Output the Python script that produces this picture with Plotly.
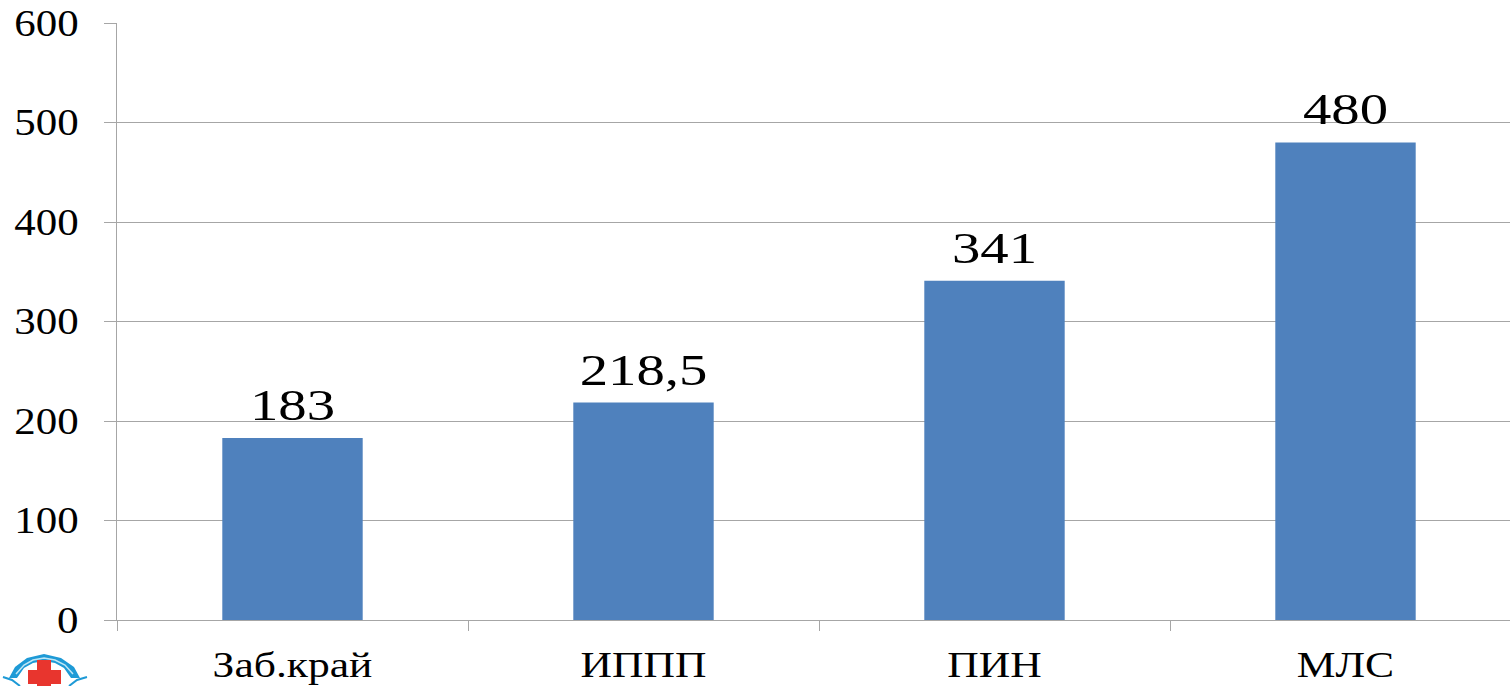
import plotly.graph_objects as go

categories = ["Заб.край", "ИППП", "ПИН", "МЛС"]
values = [183, 218.5, 341, 480]
labels = ["183", "218,5", "341", "480"]
tick_vals = [0, 100, 200, 300, 400, 500, 600]

W, H = 1521, 686
L, T, B = 117, 23, 66


def px(x):
    return (x - L) / (W - L)


def py(y):
    return (H - B - y) / (H - B - T)


def path(points, close=True):
    s = "M " + " L ".join(f"{px(a):.5f},{py(b):.5f}" for a, b in points)
    return s + (" Z" if close else "")


fig = go.Figure(go.Bar(
    x=categories, y=values, width=0.4, marker=dict(color="#4F81BD", line=dict(width=0)),
    text=labels, textposition="outside", cliponaxis=False,
    textfont=dict(family="Liberation Serif", size=44, color="#000000"),
))

logo = [
    # outer blue arch
    dict(path=path([(9, 678), (15, 667), (27, 658), (44, 654), (61, 658), (74, 667), (80, 678),
                    (71, 678), (64, 668), (55, 663), (44, 661), (33, 663), (24, 668), (17, 678)]),
         fillcolor="#1E9AD6", line=dict(width=0)),
    # pale stripe inside the arch
    dict(path=path([(16, 674), (24, 665), (33, 660), (44, 658), (55, 660), (65, 665), (73, 674)], close=False),
         fillcolor="rgba(0,0,0,0)", line=dict(width=1.5, color="#BFE6F5")),
    # side wisps
    dict(path=path([(3, 677), (12, 680), (20, 686)], close=False),
         fillcolor="rgba(0,0,0,0)", line=dict(width=2, color="#1E9AD6")),
    dict(path=path([(87, 677), (77, 680), (69, 686)], close=False),
         fillcolor="rgba(0,0,0,0)", line=dict(width=2, color="#1E9AD6")),
    # red cross
    dict(path=path([(37, 660), (51, 660), (51, 670), (61, 670), (61, 684), (51, 684), (51, 686),
                    (37, 686), (37, 684), (28, 684), (28, 670), (37, 670)]),
         fillcolor="#E8352E", line=dict(width=0)),
]
shapes = [dict(type="path", xref="paper", yref="paper", layer="above", **s) for s in logo]

fig.update_layout(
    width=W, height=H, margin=dict(l=L, r=0, t=T, b=B, autoexpand=False),
    paper_bgcolor="white", plot_bgcolor="white", showlegend=False,
    font=dict(family="Liberation Serif", color="#000000"),
    shapes=shapes,
)
fig.update_yaxes(range=[0, 600], tickvals=tick_vals, gridcolor="#A6A6A6", gridwidth=1,
    showline=True, linecolor="#A6A6A6", linewidth=1, ticks="outside", ticklen=12, tickcolor="#A6A6A6",
    tickfont=dict(family="Liberation Serif", size=37), zeroline=False, ticklabelstandoff=18)
fig.update_xaxes(showline=True, linecolor="#A6A6A6", linewidth=1, ticks="outside", ticklen=10,
    tickson="boundaries", tickcolor="#A6A6A6",
    tickfont=dict(family="Liberation Serif", size=36), showgrid=False, ticklabelstandoff=13)

post = """
document.documentElement.style.overflow = 'hidden';
document.body.style.margin = '0';
document.body.style.overflow = 'hidden';
function stretch(sel, k, dy) {
  document.querySelectorAll(sel).forEach(function (t) {
    var w = t.getComputedTextLength();
    t.setAttribute('textLength', w * k);
    t.setAttribute('lengthAdjust', 'spacingAndGlyphs');
    if (dy) t.setAttribute('dy', dy);
  });
}
stretch('.xtick text', 1.21, 0);
stretch('.ytick text', 1.16, 0);
stretch('.bartext', 1.29, -5);
"""
fig.write_html("out.html", post_script=post, config={"displayModeBar": False})
